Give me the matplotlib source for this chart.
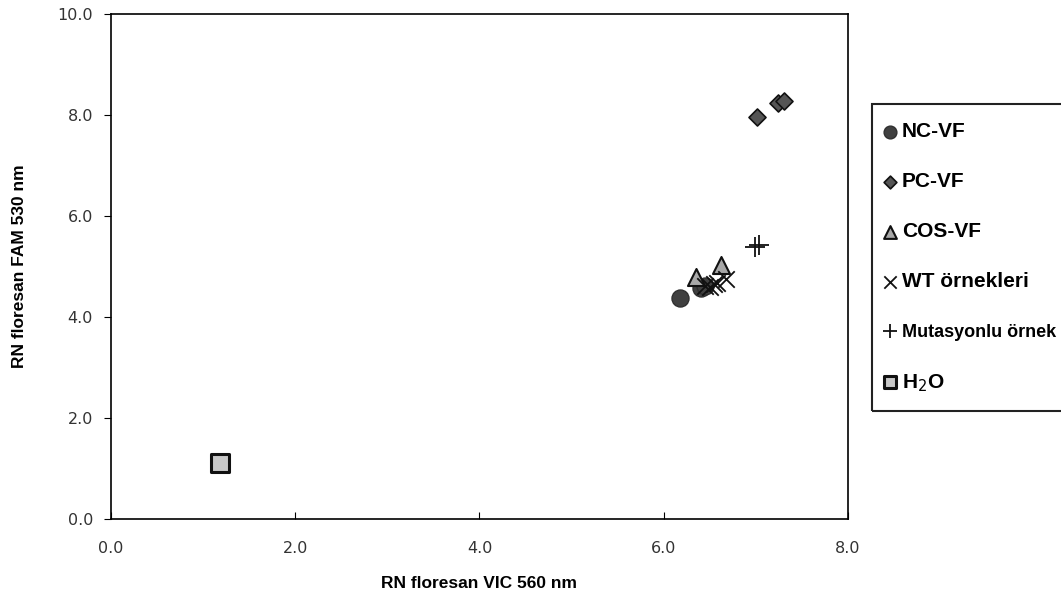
import matplotlib
matplotlib.use("Agg")
import matplotlib.pyplot as plt
from matplotlib.patches import Rectangle

plt.rcParams['font.family'] = ['Liberation Sans', 'DejaVu Sans']

nc_x = [6.18, 6.40, 6.45]
nc_y = [4.38, 4.58, 4.62]
pc_x = [7.01, 7.24, 7.31]
pc_y = [7.97, 8.24, 8.28]
cos_x = [6.35, 6.62]
cos_y = [4.80, 5.02]
wt_x = [6.45, 6.50, 6.55, 6.58, 6.68]
wt_y = [4.62, 4.60, 4.65, 4.68, 4.75]
mut_x = [6.99, 7.03]
mut_y = [5.38, 5.42]
h2o_x = [1.18]
h2o_y = [1.10]

x_ticks = [0, 2, 4, 6, 8]
y_ticks = [0, 2, 4, 6, 8, 10]


def main():
    W, H = 1061, 598
    fig = plt.figure(figsize=(W / 100, H / 100), dpi=100)
    ax = fig.add_axes([0.1046, 0.1321, 0.6946, 0.8445])

    ax.scatter(nc_x, nc_y, s=150, marker="o", color="#404040", edgecolor="#303030", label="NC-VF", zorder=3)
    ax.scatter(pc_x, pc_y, s=75, marker="D", color="#555555", edgecolor="#111111", linewidth=1.2, label="PC-VF", zorder=3)
    ax.scatter(cos_x, cos_y, s=150, marker="^", color="#a8a8a8", edgecolor="#111111", linewidth=1.5, label="COS-VF", zorder=4)
    ax.scatter(wt_x, wt_y, s=140, marker="x", color="#111111", linewidth=1.3, label="WT örnekleri", zorder=5)
    ax.scatter(mut_x, mut_y, s=200, marker="+", color="#111111", linewidth=1.3, label="Mutasyonlu örnek", zorder=5)
    ax.scatter(h2o_x, h2o_y, s=150, marker="s", color="#c8c8c8", edgecolor="#111111", linewidth=2.2, label="H$_2$O", zorder=3)

    ax.set_xlim(0, 8)
    ax.set_ylim(0, 10)
    ax.set_xticks(x_ticks)
    ax.set_yticks(y_ticks)
    ax.set_xticklabels(["%.1f" % v for v in x_ticks], family="DejaVu Sans")
    ax.set_yticklabels(["%.1f" % v for v in y_ticks], family="DejaVu Sans")
    ax.tick_params(labelsize=11.5, labelcolor="#333333")
    ax.tick_params(axis="y", direction="out", length=5, pad=8)
    ax.tick_params(axis="x", direction="in", length=5, pad=16)
    for sp in ax.spines.values():
        sp.set_linewidth(1.2)

    ax.set_xlabel("RN floresan VIC 560 nm", fontsize=12.5, fontweight="bold", labelpad=14)
    ax.set_ylabel("RN floresan FAM 530 nm", fontsize=12.5, fontweight="bold", labelpad=22)

    # legend box (runs off the right edge like the original)
    fig.patches.append(Rectangle((872 / W, 1 - 411 / H), 200 / W, 307 / H,
                                 transform=fig.transFigure, fill=False,
                                 edgecolor="#222222", linewidth=1.5))

    leg = fig.legend(loc="upper left", bbox_to_anchor=(875 / W, 1 - 118 / H),
                     borderaxespad=0, frameon=False,
                     handletextpad=0.1, labelspacing=1.49, borderpad=0.2,
                     handlelength=1.0, scatterpoints=1, markerscale=0.75,
                     prop={"weight": "bold", "size": 15})
    leg.get_texts()[4].set_fontsize(13)

    fig.savefig("out.png", dpi=100)


if __name__ == "__main__":
    main()
